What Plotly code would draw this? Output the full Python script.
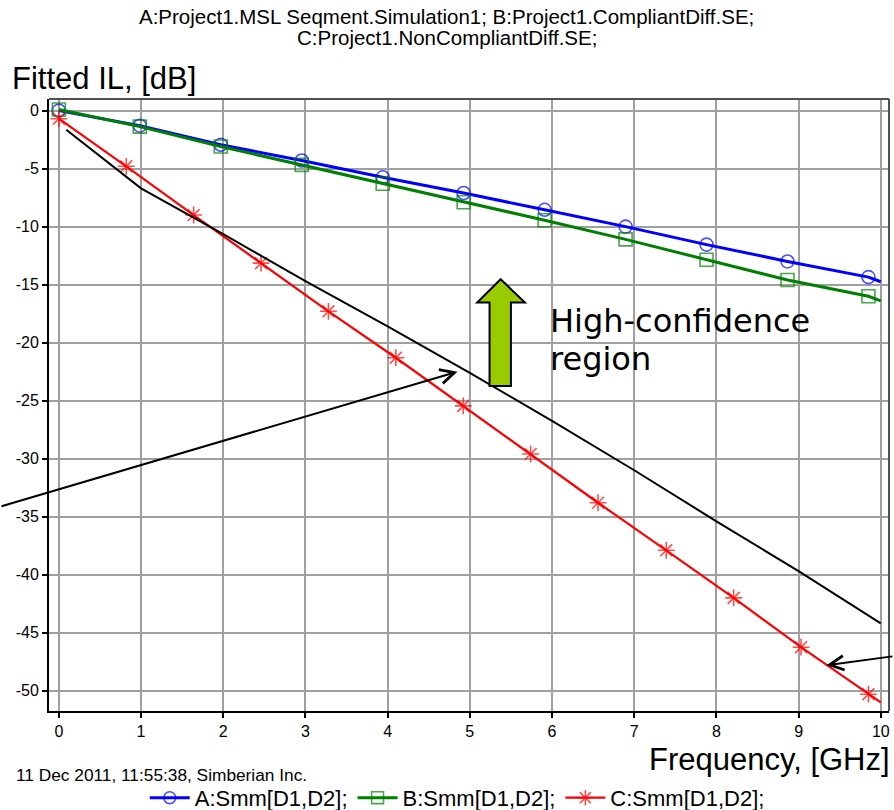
import plotly.graph_objects as go

# ---------------- data ----------------
title_lines = ["A:Project1.MSL Seqment.Simulation1; B:Project1.CompliantDiff.SE;",
               "C:Project1.NonCompliantDiff.SE;"]
y_title = "Fitted IL, [dB]"
x_title = "Frequency, [GHz]"
stamp = "11 Dec 2011, 11:55:38, Simberian Inc."
note_lines = ["High-confidence", "region"]

a_name = "A:Smm[D1,D2];"
a_freq = [0.0, 0.985, 1.97, 2.955, 3.94, 4.925, 5.91, 6.895, 7.88, 8.865, 9.85, 10.0]
a_il = [0.0, -1.30, -2.95, -4.30, -5.75, -7.10, -8.55, -10.0, -11.55, -13.0, -14.35, -14.75]

b_name = "B:Smm[D1,D2];"
b_freq = [0.0, 0.985, 1.97, 2.955, 3.94, 4.925, 5.91, 6.895, 7.88, 8.865, 9.85, 10.0]
b_il = [0.1, -1.38, -3.1, -4.68, -6.3, -7.9, -9.45, -11.1, -12.85, -14.6, -16.0, -16.4]

c_name = "C:Smm[D1,D2];"
c_freq = [0.0, 0.82, 1.64, 2.46, 3.28, 4.10, 4.92, 5.74, 6.56, 7.39, 8.21, 9.03, 9.85, 10.0]
c_il = [-0.7, -4.8, -9.0, -13.15, -17.3, -21.3, -25.45, -29.6, -33.8, -37.9, -42.0, -46.25, -50.3, -51.0]

fit_freq = [0.09, 1, 2, 3, 4, 5, 6, 7, 8, 9, 10]
fit_il = [-1.65, -6.7, -10.65, -14.7, -18.6, -22.6, -26.75, -31.0, -35.4, -39.7, -44.2]

x_ticks = [0, 1, 2, 3, 4, 5, 6, 7, 8, 9, 10]
x_tick_text = ["0", "1", "2", "3", "4", "5", "6", "7", "8", "9", "10"]
y_ticks = [0, -5, -10, -15, -20, -25, -30, -35, -40, -45, -50]
y_tick_text = ["0", "-5", "-10", "-15", "-20", "-25", "-30", "-35", "-40", "-45", "-50"]

# ---------------- figure ----------------
SANS = "Liberation Sans, Arial, sans-serif"
VERD = "DejaVu Sans, Verdana, sans-serif"


def marker_sizes(n, s):
    # markers on every sample except the final end-of-band point
    return [s] * (n - 1) + [0]


fig = go.Figure()
fig.add_trace(go.Scatter(
    x=a_freq, y=a_il, name=a_name, mode="lines+markers",
    line=dict(color="#0000FF", width=3),
    marker=dict(symbol="circle-open", size=marker_sizes(len(a_freq), 13),
                color="#0000FF", line=dict(width=1.6, color="#0000FF"))))
fig.add_trace(go.Scatter(
    x=b_freq, y=b_il, name=b_name, mode="lines+markers",
    line=dict(color="#008000", width=3),
    marker=dict(symbol="square-open", size=marker_sizes(len(b_freq), 13),
                color="#008000", line=dict(width=1.6, color="#008000"))))
fig.add_trace(go.Scatter(
    x=c_freq, y=c_il, name=c_name, mode="lines+markers",
    line=dict(color="#FF0000", width=2.2),
    marker=dict(symbol="asterisk-open", size=marker_sizes(len(c_freq), 14),
                color="#FF0000", line=dict(width=1.6, color="#FF0000"))))
fig.add_trace(go.Scatter(
    x=fit_freq, y=fit_il, mode="lines", showlegend=False,
    line=dict(color="#000000", width=2)))

axis_common = dict(
    showline=True, linecolor="#000000", linewidth=2,
    ticks="outside", ticklen=5, tickwidth=2, tickcolor="#000000",
    showgrid=True, gridcolor="#A0A0A0", gridwidth=1.6,
    zeroline=False, tickfont=dict(family=SANS, size=16, color="#000000"),
)
fig.update_xaxes(range=[-0.12, 10.1], tickmode="array", tickvals=x_ticks,
                 ticktext=x_tick_text, **axis_common)
fig.update_yaxes(range=[-51.75, 1.0], tickmode="array", tickvals=y_ticks,
                 ticktext=y_tick_text, **axis_common)

annotations = [
    dict(text=title_lines[0], xref="paper", yref="paper", x=0.4738, y=1.134,
         xanchor="center", yanchor="middle", showarrow=False,
         font=dict(family=SANS, size=20.5, color="#000000")),
    dict(text=title_lines[1], xref="paper", yref="paper", x=0.4738, y=1.0997,
         xanchor="center", yanchor="middle", showarrow=False,
         font=dict(family=SANS, size=20.5, color="#000000")),
    dict(text=y_title, xref="paper", yref="paper", x=-0.046, y=1.0327,
         xanchor="left", yanchor="middle", showarrow=False,
         font=dict(family=SANS, size=31, color="#000000")),
    dict(text=x_title, xref="paper", yref="paper", x=1.003, y=-0.08,
         xanchor="right", yanchor="middle", showarrow=False,
         font=dict(family=SANS, size=31, color="#000000")),
    dict(text=stamp, xref="paper", yref="paper", x=-0.042, y=-0.1046,
         xanchor="left", yanchor="middle", showarrow=False,
         font=dict(family=SANS, size=17.3, color="#000000")),
    dict(text=note_lines[0], xref="x", yref="y", x=5.95, y=-18.13,
         xanchor="left", yanchor="middle", showarrow=False,
         font=dict(family=VERD, size=32, color="#000000")),
    dict(text=note_lines[1], xref="x", yref="y", x=5.95, y=-21.4,
         xanchor="left", yanchor="middle", showarrow=False,
         font=dict(family=VERD, size=32, color="#000000")),
    # pointer arrows
    dict(text="", xref="x", yref="y", x=4.85, y=-22.5, ax=-460, ay=135,
         showarrow=True, arrowhead=5, arrowsize=1.4, arrowwidth=2,
         arrowcolor="#000000", standoff=0),
    dict(text="", xref="x", yref="y", x=9.34, y=-47.8, ax=70, ay=-9,
         showarrow=True, arrowhead=5, arrowsize=1.4, arrowwidth=2,
         arrowcolor="#000000", standoff=0),
]

# block arrow (decoration) in data coordinates
arrow_path = ("M 5.375,-14.53 L 5.67,-16.55 L 5.50,-16.55 L 5.50,-23.73 "
              "L 5.24,-23.73 L 5.24,-16.55 L 5.09,-16.55 Z")
shapes = [
    dict(type="path", xref="x", yref="y", path=arrow_path,
         fillcolor="#99CC00", line=dict(color="#000000", width=2), layer="above"),
    dict(type="line", xref="paper", yref="paper", x0=0, x1=1, y0=1, y1=1,
         line=dict(color="#505050", width=2)),
    dict(type="line", xref="paper", yref="paper", x0=1, x1=1, y0=0, y1=1,
         line=dict(color="#505050", width=2)),
]

fig.update_layout(
    width=894, height=810,
    margin=dict(l=49, r=5, t=99, b=99, autoexpand=False),
    paper_bgcolor="#FFFFFF", plot_bgcolor="#FFFFFF",
    showlegend=True,
    legend=dict(orientation="h", x=0.486, xanchor="center", y=-0.142,
                yanchor="middle", font=dict(family=SANS, size=22, color="#000000"),
                bgcolor="rgba(0,0,0,0)", itemwidth=40),
    annotations=annotations,
    shapes=shapes,
)

fig.write_html("out.html")
